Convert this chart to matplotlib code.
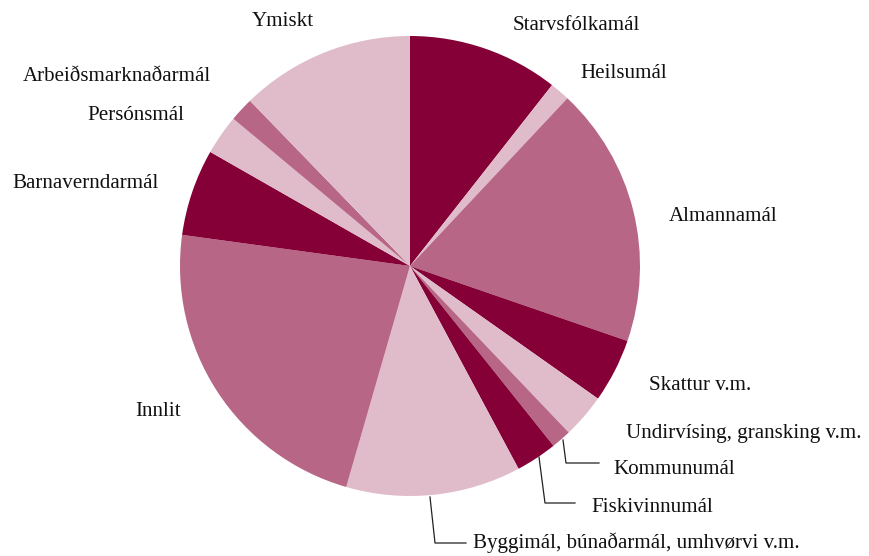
import matplotlib
matplotlib.use("Agg")
import matplotlib.pyplot as plt

categories = ["Starvsfólkamál", "Heilsumál", "Almannamál", "Skattur v.m.",
              "Undirvísing, gransking v.m.", "Kommunumál", "Fiskivinnumál",
              "Byggimál, búnaðarmál, umhvørvi v.m.", "Innlit", "Barnaverndarmál",
              "Persónsmál", "Arbeiðsmarknaðarmál", "Ymiskt"]
values = [10.6, 1.4, 18.3, 4.5, 3.1, 1.4, 2.9, 12.3, 22.7, 6.1, 2.8, 1.7, 12.25]

DARK, MED, LIGHT = "#850036", "#b76685", "#e0bccb"
colors = [DARK, LIGHT, MED, DARK, LIGHT, MED, DARK, LIGHT, MED, DARK, LIGHT, MED, LIGHT]

W, H = 870, 556
fig = plt.figure(figsize=(W / 100, H / 100), dpi=100)
ax = fig.add_axes([0, 0, 1, 1])

cx, cy, r = 410, H - 266, 230
ax.pie(values, colors=colors, startangle=90, counterclock=False,
       center=(cx, cy), radius=r, frame=True,
       wedgeprops=dict(linewidth=0))
ax.set_xlim(0, W)
ax.set_ylim(0, H)
ax.set_aspect("equal")
ax.axis("off")

# label positions (pixel coords, baseline)
label_pos = {
    "Starvsfólkamál": (513, 30),
    "Heilsumál": (580, 78),
    "Almannamál": (669, 221),
    "Skattur v.m.": (649, 390),
    "Undirvísing, gransking v.m.": (626, 438),
    "Kommunumál": (613, 474),
    "Fiskivinnumál": (591, 512),
    "Byggimál, búnaðarmál, umhvørvi v.m.": (473, 548),
    "Innlit": (135, 416),
    "Barnaverndarmál": (12, 188),
    "Persónsmál": (87, 120),
    "Arbeiðsmarknaðarmál": (23, 81),
    "Ymiskt": (252, 26),
}
for name in categories:
    x, y = label_pos[name]
    ax.text(x, H - y, name, fontsize=15.1, family="Liberation Serif",
            ha="left", va="baseline", color="#111111")

# leader lines
leaders = [
    [(563, 440), (566, 463), (599, 463)],
    [(539, 457), (545, 503), (575, 503)],
    [(430, 497), (435, 543), (466, 543)],
]
for pts in leaders:
    xs = [p[0] for p in pts]
    ys = [H - p[1] for p in pts]
    ax.plot(xs, ys, color="#222222", linewidth=0.9)

fig.savefig("out.png", dpi=100)
